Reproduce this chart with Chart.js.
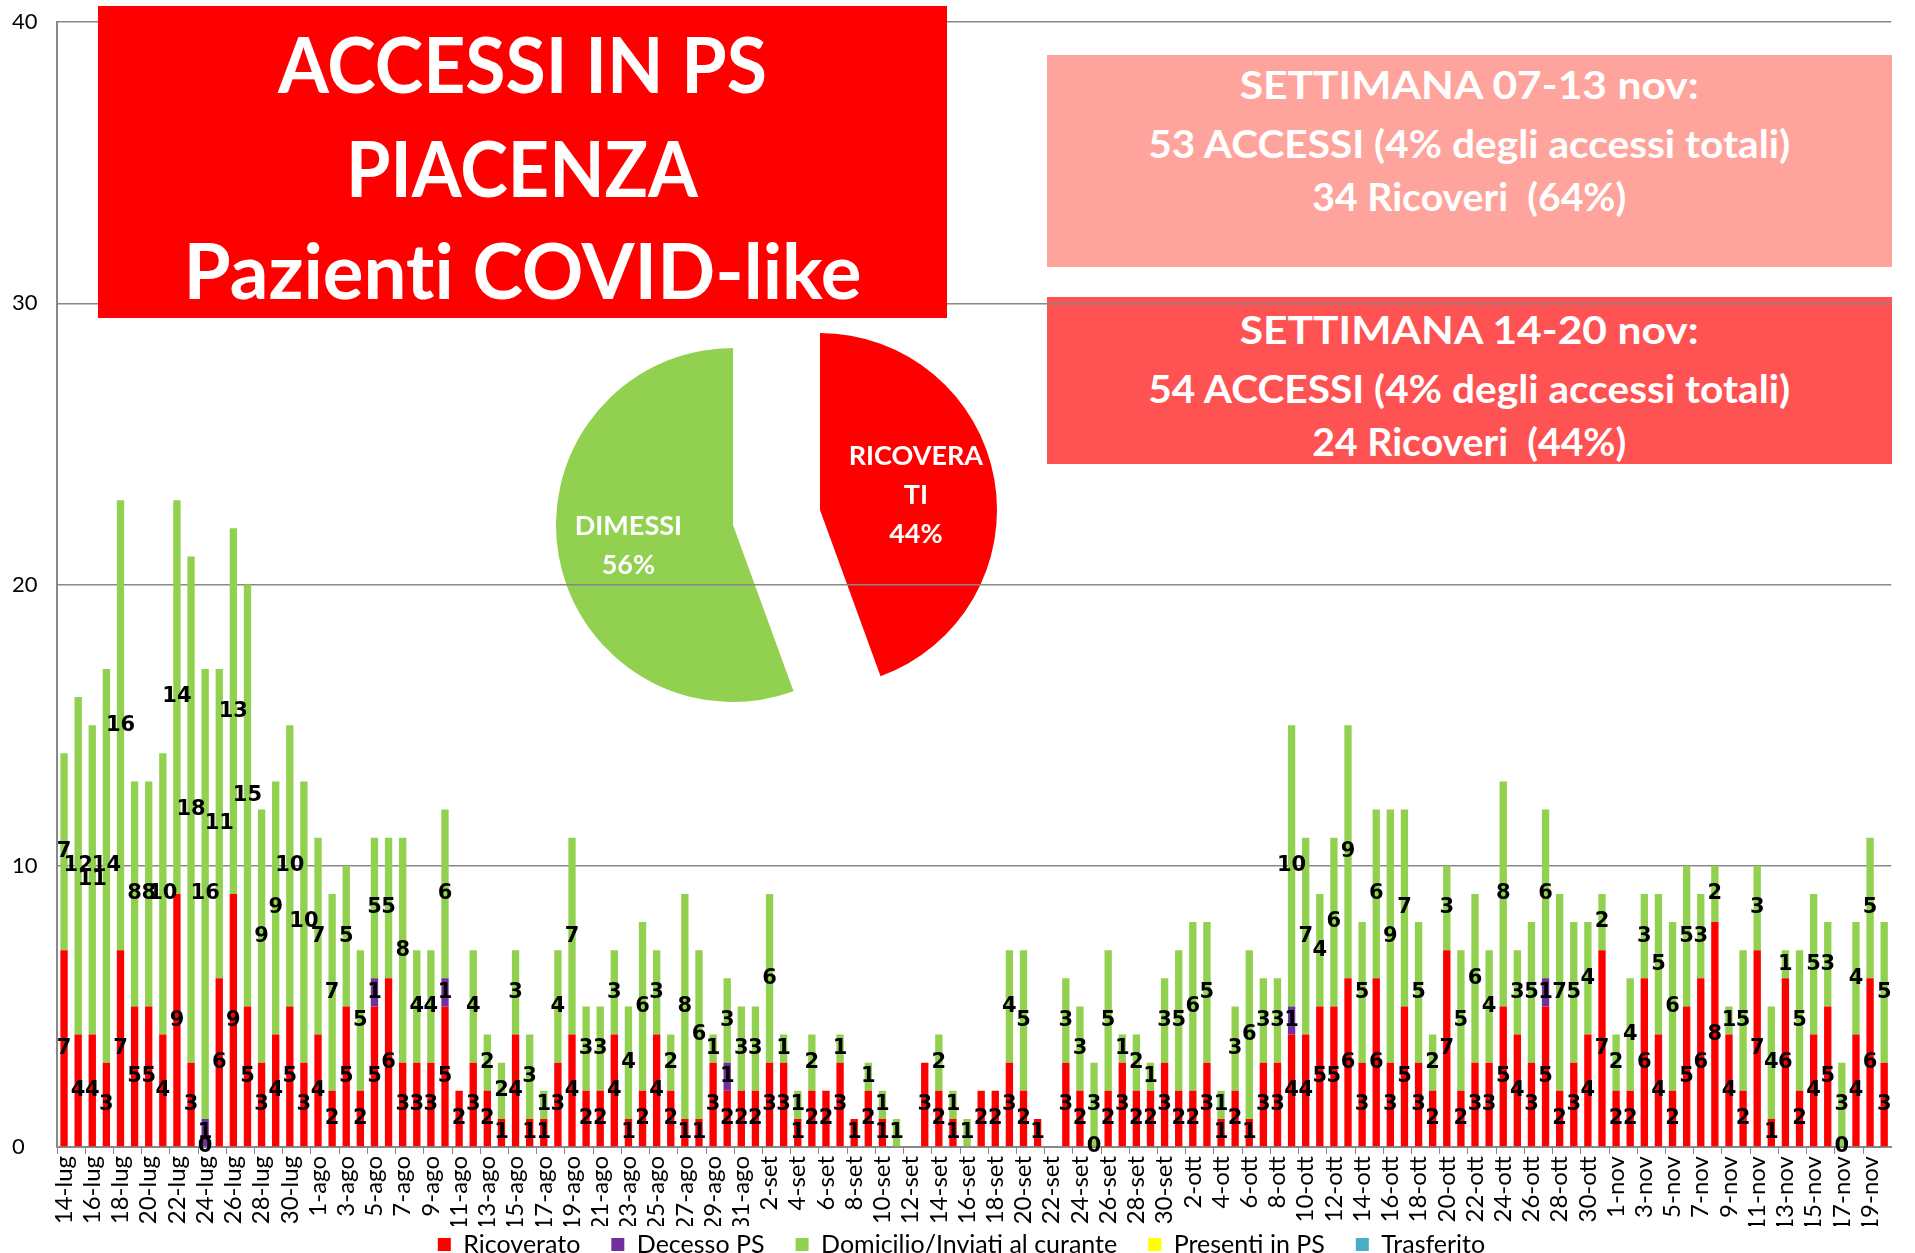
<!DOCTYPE html>
<html>
<head>
<meta charset="utf-8">
<script src="https://cdn.jsdelivr.net/npm/chart.js@4.4.1/dist/chart.umd.min.js"></script>
<style>
  body { margin: 0; background: #fff; }
  #stage { position: relative; width: 1915px; height: 1253px; overflow: hidden; }
  .box { position: absolute; }
  .line { position: absolute; left: 0; right: 0; text-align: center; white-space: pre;
          font-family: Lato, sans-serif; font-weight: bold; color: #fff; line-height: 1;
          font-variant-ligatures: none; }
  .line span { display: inline-block; transform-origin: center center; }
  #bars { position: absolute; left: 0; top: 0; width: 1915px; height: 1253px; z-index: 2; }
  .pie { position: absolute; width: 360px; height: 360px; z-index: 1; }
</style>
</head>
<body>
<div id="stage">
  <div class="box" id="week1" style="left:1047px;top:55px;width:845px;height:212px;background:#ffa49c;z-index:1"></div>
  <div class="box" id="week2" style="left:1047px;top:297px;width:845px;height:167px;background:#ff5252;z-index:1"></div>
  <div class="pie" style="left:640px;top:330px"><canvas id="pieRed" width="360" height="360"></canvas></div>
  <div class="pie" style="left:553px;top:345px"><canvas id="pieGreen" width="360" height="360"></canvas></div>
  <div id="bars"><canvas id="grafico"></canvas></div>
  <div class="box" id="titolo" style="left:98px;top:6px;width:849px;height:312px;background:#ff0000;z-index:3"></div>
</div>
<script>
const n = null;

const dates = [
  "14-lug","15-lug","16-lug","17-lug","18-lug","19-lug","20-lug","21-lug","22-lug","23-lug",
  "24-lug","25-lug","26-lug","27-lug","28-lug","29-lug","30-lug","31-lug","1-ago","2-ago",
  "3-ago","4-ago","5-ago","6-ago","7-ago","8-ago","9-ago","10-ago","11-ago","12-ago",
  "13-ago","14-ago","15-ago","16-ago","17-ago","18-ago","19-ago","20-ago","21-ago","22-ago",
  "23-ago","24-ago","25-ago","26-ago","27-ago","28-ago","29-ago","30-ago","31-ago","1-set",
  "2-set","3-set","4-set","5-set","6-set","7-set","8-set","9-set","10-set","11-set",
  "12-set","13-set","14-set","15-set","16-set","17-set","18-set","19-set","20-set","21-set",
  "22-set","23-set","24-set","25-set","26-set","27-set","28-set","29-set","30-set","1-ott",
  "2-ott","3-ott","4-ott","5-ott","6-ott","7-ott","8-ott","9-ott","10-ott","11-ott",
  "12-ott","13-ott","14-ott","15-ott","16-ott","17-ott","18-ott","19-ott","20-ott","21-ott",
  "22-ott","23-ott","24-ott","25-ott","26-ott","27-ott","28-ott","29-ott","30-ott","31-ott",
  "1-nov","2-nov","3-nov","4-nov","5-nov","6-nov","7-nov","8-nov","9-nov","10-nov",
  "11-nov","12-nov","13-nov","14-nov","15-nov","16-nov","17-nov","18-nov","19-nov","20-nov"
];

const ricoverato = [
  7,4,4,3,7,5,5,4,9,3,
  0,6,9,5,3,4,5,3,4,2,
  5,2,5,6,3,3,3,5,2,3,
  2,1,4,1,1,3,4,2,2,4,
  1,2,4,2,1,1,3,2,2,2,
  3,3,1,2,2,3,1,2,1,n,
  n,3,2,1,n,2,2,3,2,1,
  n,3,2,0,2,3,2,2,3,2,
  2,3,1,2,1,3,3,4,4,5,
  5,6,3,6,3,5,3,2,7,2,
  3,3,5,4,3,5,2,3,4,7,
  2,2,6,4,2,5,6,8,4,2,
  7,1,6,2,4,5,0,4,6,3
];

const decesso = [
  n,n,n,n,n,n,n,n,n,n,
  1,n,n,n,n,n,n,n,n,n,
  n,n,1,n,n,n,n,1,n,n,
  n,n,n,n,n,n,n,n,n,n,
  n,n,n,n,n,n,n,1,n,n,
  n,n,n,n,n,n,n,n,n,n,
  n,n,n,n,n,n,n,n,n,n,
  n,n,n,n,n,n,n,n,n,n,
  n,n,n,n,n,n,n,1,n,n,
  n,n,n,n,n,n,n,n,n,n,
  n,n,n,n,n,1,n,n,n,n,
  n,n,n,n,n,n,n,n,n,n,
  n,n,n,n,n,n,n,n,n,n
];

const domicilio = [
  7,12,11,14,16,8,8,10,14,18,
  16,11,13,15,9,9,10,10,7,7,
  5,5,5,5,8,4,4,6,n,4,
  2,2,3,3,1,4,7,3,3,3,
  4,6,3,2,8,6,1,3,3,3,
  6,1,1,2,n,1,n,1,1,1,
  n,n,2,1,1,n,n,4,5,n,
  n,3,3,3,5,1,2,1,3,5,
  6,5,1,3,6,3,3,10,7,4,
  6,9,5,6,9,7,5,2,3,5,
  6,4,8,3,5,6,7,5,4,2,
  2,4,3,5,6,5,3,2,1,5,
  3,4,1,5,5,3,3,4,5,5
];

const presenti = [];
const trasferito = [];

// torta: ricoveri / dimessi settimana 14-20 nov
const pieValues = [24, 30];
const pieLines = [["RICOVERA", "TI"], ["DIMESSI"]];

// testi riquadri
const titolo = [
  { t: "ACCESSI IN PS", cy: 60, w: 489 },
  { t: "PIACENZA", cy: 164, w: 352 },
  { t: "Pazienti COVID-like", cy: 266, w: 678 }
];
const settimana1 = [
  { t: "SETTIMANA 07-13 nov:", cy: 86 - 55, w: 459 },
  { t: "53 ACCESSI (4% degli accessi totali)", cy: 145 - 55, w: 642 },
  { t: "34 Ricoveri  (64%)", cy: 198 - 55, w: 314 }
];
const settimana2 = [
  { t: "SETTIMANA 14-20 nov:", cy: 331 - 297, w: 459 },
  { t: "54 ACCESSI (4% degli accessi totali)", cy: 390 - 297, w: 642 },
  { t: "24 Ricoveri  (44%)", cy: 443 - 297, w: 314 }
];

function writeLines(id, lines, size) {
  const box = document.getElementById(id);
  lines.forEach(l => {
    const d = document.createElement("div");
    d.className = "line";
    d.style.fontSize = size + "px";
    d.style.top = (l.cy - 0.53 * size) + "px";
    const s = document.createElement("span");
    s.textContent = l.t;
    d.appendChild(s);
    box.appendChild(d);
    const nat = s.getBoundingClientRect().width;
    s.style.transform = "scaleX(" + (l.w / nat) + ")";
  });
}
writeLines("titolo", titolo, 76);
writeLines("week1", settimana1, 39);
writeLines("week2", settimana2, 39);

const valueLabels = {
  id: "valueLabels",
  afterDatasetsDraw(chart) {
    const ctx = chart.ctx;
    ctx.save();
    ctx.font = "bold 21px 'DejaVu Sans'";
    ctx.fillStyle = "#000";
    ctx.textAlign = "center";
    ctx.textBaseline = "middle";
    chart.data.datasets.forEach((ds, i) => {
      const meta = chart.getDatasetMeta(i);
      meta.data.forEach((bar, j) => {
        const v = ds.data[j];
        if (v == null) return;
        ctx.fillText(v, bar.x, (bar.y + bar.base) / 2);
      });
    });
    ctx.restore();
  }
};

new Chart(document.getElementById("grafico"), {
  type: "bar",
  data: {
    labels: dates,
    datasets: [
      { label: "Ricoverato", data: ricoverato, backgroundColor: "#ff0000" },
      { label: "Decesso PS", data: decesso, backgroundColor: "#7030a0" },
      { label: "Domicilio/Inviati al curante", data: domicilio, backgroundColor: "#92d050" },
      { label: "Presenti in PS", data: presenti, backgroundColor: "#ffff00" },
      { label: "Trasferito", data: trasferito, backgroundColor: "#4bacc6" }
    ]
  },
  options: {
    responsive: true,
    maintainAspectRatio: false,
    animation: false,
    datasets: { bar: { categoryPercentage: 1, barPercentage: 0.52 } },
    layout: { padding: { left: 12, right: 4, top: 22, bottom: -14 } },
    plugins: {
      legend: {
        position: "bottom",
        labels: {
          font: { family: "Lato", size: 25 }, color: "#000", boxWidth: 13, boxHeight: 13, padding: 6,
          generateLabels(chart) {
            const items = Chart.defaults.plugins.legend.labels.generateLabels(chart);
            items.forEach((it, i) => { if (i < items.length - 1) it.text += "\u2002\u2002"; });
            return items;
          }
        }
      },
      tooltip: { enabled: false }
    },
    scales: {
      x: {
        stacked: true,
        afterFit(scale) { scale.height = 79; },
        grid: {
          offset: true, drawOnChartArea: false, tickLength: 7,
          color: c => (c.index % 2 === 0 ? "#888" : "rgba(0,0,0,0)")
        },
        border: { color: "#888", width: 2 },
        ticks: {
          autoSkip: false, maxRotation: 90, minRotation: 90, padding: 2,
          font: { family: "Lato", size: 24 }, color: "#000",
          callback: function (v, i) { return i % 2 === 0 ? this.getLabelForValue(v) : ""; }
        }
      },
      y: {
        stacked: true,
        min: 0,
        max: 40,
        afterFit(scale) { scale.width = 45; },
        ticks: { stepSize: 10, padding: 3, crossAlign: "far", font: { family: "Lato", size: 22 }, color: "#000" },
        grid: { color: "#888", lineWidth: 1.5, drawTicks: false },
        border: { color: "#888", width: 2 }
      }
    }
  },
  plugins: [valueLabels]
});

const total = pieValues[0] + pieValues[1];
function pieLabels(k, dist) {
  return {
    id: "pieLabels" + k,
    afterDatasetsDraw(chart) {
      const arc = chart.getDatasetMeta(0).data[k];
      const mid = (arc.startAngle + arc.endAngle) / 2;
      const r = arc.outerRadius * dist;
      const cx = arc.x + Math.cos(mid) * r;
      const cy = arc.y + Math.sin(mid) * r;
      const lines = pieLines[k].concat([Math.round(pieValues[k] / total * 100) + "%"]);
      const ctx = chart.ctx;
      ctx.save();
      ctx.font = "bold 27px Lato";
      ctx.fillStyle = "#fff";
      ctx.textAlign = "center";
      ctx.textBaseline = "middle";
      const step = 39;
      lines.forEach((t, i) => {
        ctx.fillText(t, cx, cy + 2 + (i - (lines.length - 1) / 2) * step);
      });
      ctx.restore();
    }
  };
}

function drawPie(id, k, colors, dist) {
  new Chart(document.getElementById(id), {
    type: "pie",
    data: { labels: ["RICOVERATI", "DIMESSI"], datasets: [{ data: pieValues, backgroundColor: colors, borderWidth: 0 }] },
    options: {
      responsive: false,
      animation: false,
      radius: 177,
      layout: { padding: 0 },
      plugins: { legend: { display: false }, tooltip: { enabled: false } }
    },
    plugins: [pieLabels(k, dist)]
  });
}
drawPie("pieRed", 0, ["#ff0000", "rgba(0,0,0,0)"], 0.55);
drawPie("pieGreen", 1, ["rgba(0,0,0,0)", "#92d050"], 0.6);
</script>
</body>
</html>
